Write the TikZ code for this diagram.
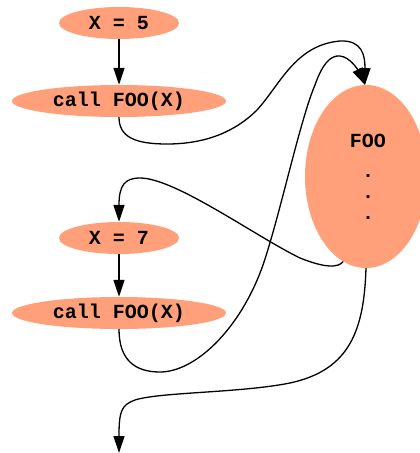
\documentclass[tikz,border=0pt]{standalone}
\usepackage{fontspec}
\newfontfamily\codefont{Liberation Mono}
\usetikzlibrary{arrows.meta,shapes.geometric}
\definecolor{nodefill}{RGB}{255,160,122}
\tikzset{
  stmt/.style={ellipse, fill=nodefill, inner sep=0pt, minimum height=32pt,
    font=\codefont\bfseries\fontsize{20}{22}\selectfont},
  shortstmt/.style={stmt, minimum width=120pt},
  longstmt/.style={stmt, minimum width=214pt},
  proc/.style={ellipse, fill=nodefill, inner sep=0pt, minimum width=122pt, minimum height=183pt},
  txt/.style={anchor=base, inner sep=0pt, font=\codefont\bfseries\fontsize{20}{22}\selectfont},
  edge/.style={line width=1.3pt, -{Triangle[length=17pt,width=11pt]}},
}
\begin{document}
\begin{tikzpicture}[x=1pt,y=-1pt]
\useasboundingbox (0,0) rectangle (420,453);
\begin{scope}
\clip (0,0) rectangle (420,453);
\node[proc] (foo) at (366,176.5) {};
\end{scope}
\node[txt] (fooname) at (368,147) {FOO};
\node[txt] (dot1) at (368,177.5) {.};
\node[txt] (dot2) at (368,198) {.};
\node[txt] (dot3) at (368,219) {.};
\node[shortstmt] (x5) at (119,23) {X = 5};
\node[longstmt] (c1) at (119,101) {call FOO(X)};
\node[shortstmt] (x7) at (119,238) {X = 7};
\node[longstmt] (c2) at (119,313) {call FOO(X)};
\coordinate (out) at (119,453);
\coordinate (fooin) at (365,85);

\draw[edge] (x5) -- (c1);
\draw[edge] (x7) -- (c2);
\draw[edge] (c1.south) .. controls (119,137) and (135,144) .. (167,144)
  .. controls (205,144) and (235,132) .. (257,110)
  .. controls (280,85) and (295,45) .. (340,41)
  .. controls (362,40) and (365,55) .. (fooin);
\draw[edge] (c2.south) .. controls (119,360) and (135,372) .. (160,372)
  .. controls (195,372) and (240,330) .. (263,265)
  .. controls (280,215) and (300,120) .. (315,85)
  .. controls (322,65) and (330,55) .. (340,56)
  .. controls (350,57) and (358,70) .. (fooin);
\draw[edge] (foo.255) .. controls (338,268) and (325,268) .. (300,258)
  .. controls (255,236) and (175,178) .. (140,178)
  .. controls (125,178) and (119,185) .. (x7.north);
\draw[edge] (foo.south) .. controls (364,330) and (350,370) .. (290,383)
  .. controls (240,393) and (160,392) .. (135,400)
  .. controls (121,405) and (119,412) .. (out);
\end{tikzpicture}
\end{document}
